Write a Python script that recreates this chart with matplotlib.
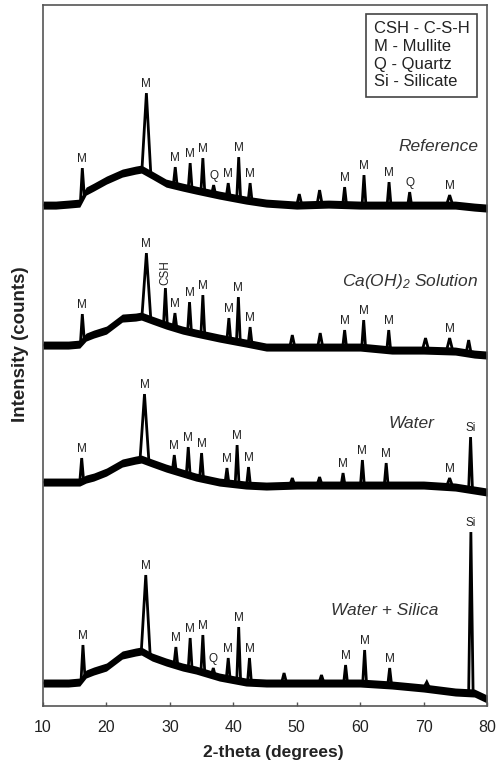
import numpy as np
import matplotlib
matplotlib.use('Agg')
import matplotlib.pyplot as plt

plt.rcParams['font.family'] = ['Liberation Sans', 'DejaVu Sans']
plt.rcParams['mathtext.fontset'] = 'custom'
plt.rcParams['mathtext.rm'] = 'Liberation Sans:italic'
plt.rcParams['mathtext.it'] = 'Liberation Sans:italic'

# centre line of the (noisy) background of each pattern
base_theta = [10, 12, 14, 15.8, 16.8, 18, 20, 22.5, 24.6, 25.5, 27.2, 29.4, 32, 34.1,
              37.8, 42, 45.2, 50, 55, 60, 65, 70, 75, 78, 80]
ref_base = [501, 501, 502, 503, 515, 519, 526, 533, 536, 537, 531, 523, 519, 516,
            511, 506, 503, 501, 502, 501, 501, 501, 501, 499, 498]
caoh_base = [361, 361, 361, 362, 369, 372, 376, 388, 389, 390, 386, 381, 376, 373,
             368, 363, 359, 359, 359, 359, 356, 356, 355, 352, 351]
water_base = [224, 224, 224, 224, 227, 229, 234, 243, 246, 247, 243, 238, 233, 229,
              224, 221, 220, 221, 221, 221, 221, 221, 219, 216, 214]
silica_base = [23, 23, 23, 24, 32, 35, 39, 51, 54, 55, 49, 44, 39, 36,
               29, 24, 23, 23, 23, 23, 21, 18, 14, 13, 7]

# peaks: position, top, half width at the foot, label
ref_pk_theta = [16.2, 26.3, 30.85, 33.2, 35.2, 36.9, 39.2, 40.85, 42.65, 50.4, 53.6,
                57.55, 60.6, 64.55, 67.8, 74.1]
ref_pk_top = [538, 613, 539, 543, 548, 521, 523, 549, 523, 512, 516,
              519, 531, 524, 514, 511]
ref_pk_w = [0.3, 0.7, 0.3, 0.3, 0.3, 0.3, 0.3, 0.3, 0.3, 0.4, 0.4,
            0.3, 0.3, 0.3, 0.3, 0.5]
ref_pk_tag = ['M', 'M', 'M', 'M', 'M', 'Q', 'M', 'M', 'M', '', '',
              'M', 'M', 'M', 'Q', 'M']

caoh_pk_theta = [16.2, 26.3, 29.3, 30.8, 33.1, 35.2, 39.3, 40.8, 42.65, 49.3, 53.7,
                 57.55, 60.55, 64.5, 70.3, 74.1, 77.1]
caoh_pk_top = [392, 453, 418, 393, 404, 411, 388, 409, 379, 371, 373,
               376, 386, 376, 368, 368, 366]
caoh_pk_w = [0.3, 0.7, 0.3, 0.3, 0.3, 0.3, 0.3, 0.3, 0.3, 0.4, 0.4,
             0.3, 0.3, 0.3, 0.5, 0.5, 0.4]
caoh_pk_tag = ['M', 'M', 'CSH', 'M', 'M', 'M', 'M', 'M', 'M', '', '',
               'M', 'M', 'M', '', 'M', '']

water_pk_theta = [16.1, 26.0, 30.7, 32.9, 35.0, 39.0, 40.6, 42.4, 49.3, 53.6,
                  57.3, 60.35, 64.1, 74.1, 77.4]
water_pk_top = [248, 312, 251, 259, 253, 238, 261, 239, 228, 229,
                233, 246, 243, 228, 269]
water_pk_w = [0.3, 0.7, 0.3, 0.3, 0.3, 0.3, 0.3, 0.3, 0.4, 0.4,
              0.3, 0.3, 0.3, 0.5, 0.3]
water_pk_tag = ['M', 'M', 'M', 'M', 'M', 'M', 'M', 'M', '', '',
                'M', 'M', 'M', 'M', 'Si']

silica_pk_theta = [16.3, 26.2, 30.95, 33.2, 35.2, 36.85, 39.2, 40.85, 42.55, 48.0, 53.9,
                   57.7, 60.7, 64.65, 70.5, 77.45]
silica_pk_top = [61, 131, 59, 68, 71, 38, 48, 79, 48, 33, 31,
                 41, 56, 38, 24, 174]
silica_pk_w = [0.3, 0.7, 0.3, 0.3, 0.3, 0.3, 0.3, 0.3, 0.3, 0.4, 0.4,
               0.3, 0.3, 0.3, 0.5, 0.35]
silica_pk_tag = ['M', 'M', 'M', 'M', 'M', 'Q', 'M', 'M', 'M', '', '',
                 'M', 'M', 'M', '', 'Si']

samples = ['Reference', 'Ca(OH)$_2$ Solution', 'Water', 'Water + Silica']
legend_lines = ['CSH - C-S-H', 'M - Mullite', 'Q - Quartz', 'Si - Silicate']


def build(base, pk_theta, pk_top, pk_w):
    bx = np.array(base_theta, float)
    by = np.array(base, float)
    keep = np.ones(len(bx), bool)
    for p, w in zip(pk_theta, pk_w):
        keep &= ~((bx > p - w) & (bx < p + w))
    xs = list(bx[keep])
    ys = list(by[keep])
    for p, t, w in zip(pk_theta, pk_top, pk_w):
        for xx in (p - w, p + w):
            xs.append(xx)
            ys.append(np.interp(xx, bx, by))
        xs.append(p)
        ys.append(t)
    o = np.argsort(xs)
    return np.array(xs)[o], np.array(ys)[o]


fig = plt.figure(figsize=(4.97, 7.66), dpi=100)
ax = fig.add_axes([0.0865, 0.0783, 0.8935, 0.915])

traces = [(ref_base, ref_pk_theta, ref_pk_top, ref_pk_w, ref_pk_tag),
          (caoh_base, caoh_pk_theta, caoh_pk_top, caoh_pk_w, caoh_pk_tag),
          (water_base, water_pk_theta, water_pk_top, water_pk_w, water_pk_tag),
          (silica_base, silica_pk_theta, silica_pk_top, silica_pk_w, silica_pk_tag)]

for base, pth, ptop, pw, ptag in traces:
    b = np.array(base, float)
    ax.fill_between(base_theta, b - 4, b + 4, color='black', lw=0)
    x, y = build(base, pth, ptop, pw)
    ax.plot(x, y, color='black', lw=2.0, solid_joinstyle='miter')
    for p, t, tag in zip(pth, ptop, ptag):
        if not tag:
            continue
        rot = 90 if tag == 'CSH' else 0
        ax.annotate(tag, (p, t), xytext=(0, 2.5), textcoords='offset points',
                    ha='center', va='bottom', fontsize=8.5, rotation=rot, color='#222222')

# sample names
name_kw = dict(va='center', fontsize=12.5, style='italic', color='#333333')
ax.text(78.7, 560, samples[0], ha='right', **name_kw)
ax.text(78.6, 425, samples[1], ha='right', **name_kw)
ax.text(68.1, 283, samples[2], ha='center', **name_kw)
ax.text(63.9, 96, samples[3], ha='center', **name_kw)

ax.text(0.745, 0.977, '\n'.join(legend_lines), transform=ax.transAxes, ha='left', va='top',
        fontsize=12, linespacing=1.22, color='#222222',
        bbox=dict(boxstyle='square,pad=0.45', fc='white', ec='#444444', lw=1.2))

ax.set_xlim(10, 80)
ax.set_ylim(0, 701)
ax.set_yticks([])
ax.set_xticks(range(10, 81, 10))
ax.tick_params(axis='x', direction='in', length=3, width=1, color='#555555',
               labelsize=11.5, pad=10, labelcolor='#222222')
for s in ax.spines.values():
    s.set_color('#555555')
    s.set_linewidth(1.2)

ax.set_xlabel('2-theta (degrees)', fontsize=12.5, fontweight='bold', color='#222222')
ax.set_ylabel('Intensity (counts)', fontsize=13.5, fontweight='bold', color='#222222')
ax.xaxis.set_label_coords(0.518, -0.056)
ax.yaxis.set_label_coords(-0.032, 0.516)

fig.savefig('out.png', dpi=100)
